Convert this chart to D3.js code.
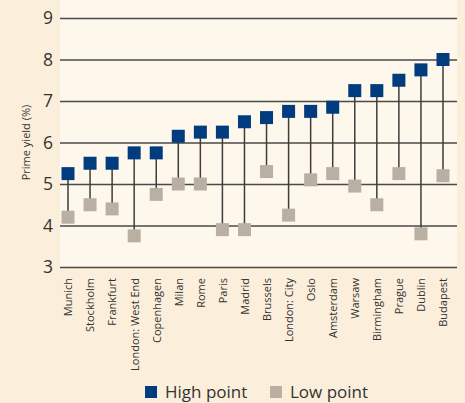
<!DOCTYPE html>
<html>
<head>
<meta charset="utf-8">
<script src="https://cdn.jsdelivr.net/npm/d3@7"></script>
<style>
  html, body { margin: 0; padding: 0; background: #FBEFDB; }
  svg { display: block; }
  svg text { font-family: "Open Sans", "Noto Sans", sans-serif; }
</style>
</head>
<body>
<svg id="chart" width="465" height="403"></svg>
<script>
// Prime office yields by city: high and low points (%)
const cities = ["Munich", "Stockholm", "Frankfurt", "London: West End", "Copenhagen", "Milan",
  "Rome", "Paris", "Madrid", "Brussels", "London: City", "Oslo", "Amsterdam", "Warsaw",
  "Birmingham", "Prague", "Dublin", "Budapest"];
const highPoint = [5.25, 5.5, 5.5, 5.75, 5.75, 6.15, 6.25, 6.25, 6.5, 6.6, 6.75, 6.75, 6.85, 7.25, 7.25, 7.5, 7.75, 8.0];
const lowPoint  = [4.2, 4.5, 4.4, 3.75, 4.75, 5.0, 5.0, 3.9, 3.9, 5.3, 4.25, 5.1, 5.25, 4.95, 4.5, 5.25, 3.8, 5.2];
const yTicks = [3, 4, 5, 6, 7, 8, 9];
const legendItems = ["High point", "Low point"];

const colors = { high: "#003C7E", low: "#B9B0A3" };
const svg = d3.select("#chart");

const plot = { left: 60, right: 457, top: 18, bottom: 267 };
const x = d3.scalePoint().domain(cities).range([68, 443]);
const y = d3.scaleLinear().domain([3, 9]).range([plot.bottom, plot.top]);

// plot background
svg.append("rect")
  .attr("x", plot.left).attr("y", 0)
  .attr("width", plot.right - plot.left).attr("height", plot.bottom)
  .attr("fill", "#FDF7EC");

// horizontal gridlines + y labels
const yAxis = d3.axisLeft(y).tickValues(yTicks).tickFormat(d3.format("d"))
  .tickSize(-(plot.right - plot.left));
const gy = svg.append("g").attr("transform", `translate(${plot.left},0)`).call(yAxis);
gy.attr("font-family", null);
gy.select(".domain").remove();
gy.selectAll(".tick line").attr("stroke", "#4a4a4a").attr("stroke-width", 1.3);
gy.selectAll(".tick text")
  .attr("font-size", 17.5).attr("fill", "#333").attr("x", -7);

svg.append("text")
  .attr("transform", `translate(30,${y(6)}) rotate(-90)`)
  .attr("text-anchor", "middle")
  .attr("font-size", 11).attr("fill", "#333")
  .text("Prime yield (%)");

// x labels (rotated)
const xAxis = d3.axisBottom(x).tickSize(0).tickPadding(0);
const gx = svg.append("g").attr("transform", `translate(0,${plot.bottom})`).call(xAxis);
gx.attr("font-family", null);
gx.select(".domain").remove();
gx.selectAll(".tick text")
  .attr("font-size", 11).attr("fill", "#333")
  .attr("text-anchor", "end")
  .attr("transform", "rotate(-90)")
  .attr("x", -11).attr("y", 0).attr("dy", "0.35em");

// connectors
const rows = cities.map((c, i) => ({ city: c, high: highPoint[i], low: lowPoint[i] }));
svg.append("g").selectAll("line").data(rows).join("line")
  .attr("x1", d => x(d.city)).attr("x2", d => x(d.city))
  .attr("y1", d => y(d.high)).attr("y2", d => y(d.low))
  .attr("stroke", "#3d3d3d").attr("stroke-width", 1.5);

const sq = 13;
svg.append("g").selectAll("rect").data(rows).join("rect")
  .attr("x", d => x(d.city) - sq / 2).attr("y", d => y(d.low) - sq / 2)
  .attr("width", sq).attr("height", sq).attr("fill", colors.low);
svg.append("g").selectAll("rect").data(rows).join("rect")
  .attr("x", d => x(d.city) - sq / 2).attr("y", d => y(d.high) - sq / 2)
  .attr("width", sq).attr("height", sq).attr("fill", colors.high);

// legend
const legendX = [145, 270];
const legendColors = [colors.high, colors.low];
const lg = svg.append("g");
legendItems.forEach((label, i) => {
  lg.append("rect").attr("x", legendX[i]).attr("y", 386).attr("width", 12).attr("height", 12)
    .attr("fill", legendColors[i]);
  lg.append("text").attr("x", legendX[i] + 20).attr("y", 397.5)
    .attr("font-size", 17).attr("fill", "#333").text(label);
});
</script>
</body>
</html>
